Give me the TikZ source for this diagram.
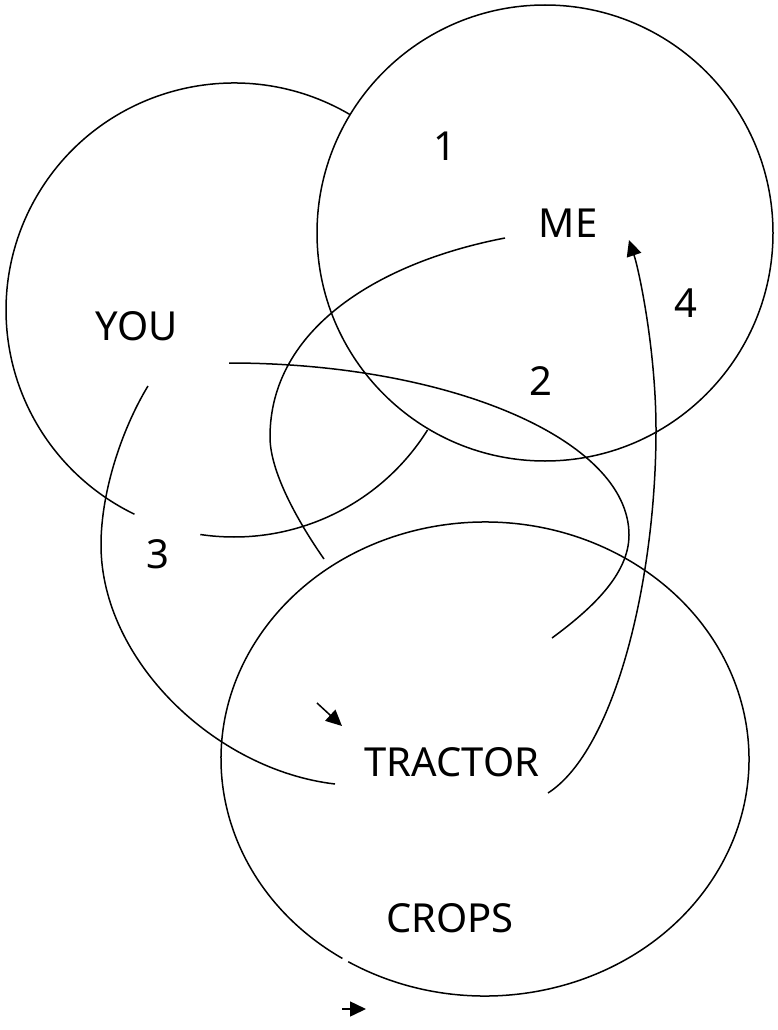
\documentclass[tikz,border=0pt]{standalone}
\usepackage{fontspec}
\setmainfont{Noto Sans}
\usetikzlibrary{arrows.meta}
\begin{document}
\begin{tikzpicture}[x=1pt,y=1pt,
  ln/.style={line width=1.5pt},
  lbl/.style={font=\fontsize{40}{48}\selectfont, inner sep=0pt, anchor=center},
  tip/.style={-{Triangle[length=16pt,width=15pt]}}]
\useasboundingbox (0,0) rectangle (777,-1030);
% labels
\node[lbl] (one) at (445,-146) {1};
\node[lbl] (me) at (568,-223) {ME};
\node[lbl] (you) at (137,-326) {YOU};
\node[lbl] (four) at (686,-303) {4};
\node[lbl] (two) at (541,-381) {2};
\node[lbl] (three) at (158,-554) {3};
\node[lbl] (tractor) at (452,-762) {TRACTOR};
\node[lbl] (crops) at (450,-918) {CROPS};
% centres
\coordinate (youc) at (234,-310);
\coordinate (mec) at (545,-233);
\coordinate (trc) at (485,-759);
% circles
\draw[ln] (mec) circle[radius=228pt];
\draw[ln] (youc) ++(59.4:228pt and 227pt) arc[start angle=59.4, end angle=244.1, x radius=228pt, y radius=227pt];
\draw[ln] (youc) ++(261.5:228pt and 227pt) arc[start angle=261.5, end angle=328.1, x radius=228pt, y radius=227pt];
\draw[ln] (trc) ++(238.8:264pt and 237pt) arc[start angle=238.8, end angle=597.3, x radius=264pt, y radius=237pt];
% curve from ME towards 3
\coordinate (a0) at (505,-238);
\coordinate (a1) at (270,-437);
\coordinate (a2) at (324,-559);
\draw[ln] (a0) .. controls (380,-262) and (270,-328) .. (a1) .. controls (270,-475) and (303,-529) .. (a2);
% curve from YOU via 2
\coordinate (b0) at (229,-363);
\coordinate (b1) at (629,-535);
\coordinate (b2) at (552,-638);
\draw[ln] (b0) .. controls (450,-363) and (629,-440) .. (b1) .. controls (629,-575) and (590,-610) .. (b2);
% curve from YOU to TRACTOR
\coordinate (c0) at (148,-386);
\coordinate (c1) at (101,-545);
\coordinate (c2) at (335,-784);
\draw[ln] (c0) .. controls (123,-427) and (101,-490) .. (c1) .. controls (101,-660) and (215,-770) .. (c2);
% curve from TRACTOR to ME
\coordinate (d0) at (548,-793);
\coordinate (d1) at (656,-430);
\coordinate (d2) at (629,-240);
\draw[ln,tip] (d0) .. controls (615,-750) and (656,-580) .. (d1) .. controls (656,-350) and (639,-270) .. (d2);
% small arrows
\coordinate (e0) at (317,-703);
\coordinate (e1) at (342,-726);
\draw[ln,tip] (e0) -- (e1);
\coordinate (f0) at (342,-1009);
\coordinate (f1) at (366,-1009);
\draw[ln,tip] (f0) -- (f1);
\end{tikzpicture}
\end{document}
